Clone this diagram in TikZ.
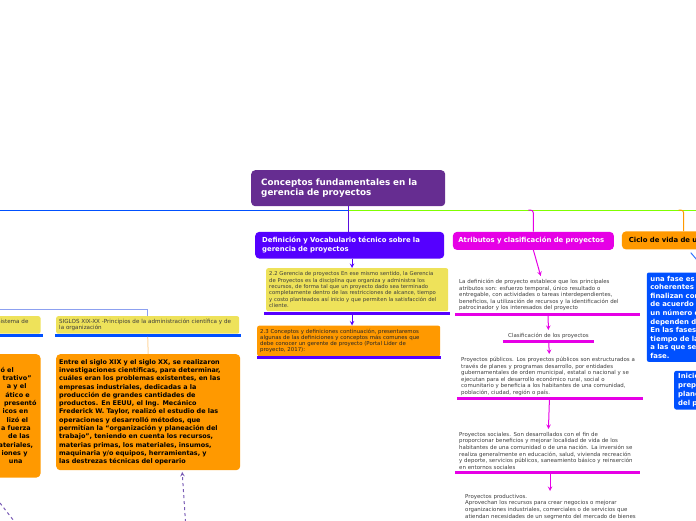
\documentclass[tikz,border=0pt]{standalone}
\usepackage{fontspec}
\setmainfont{DejaVu Sans}

\definecolor{titlepurple}{RGB}{102,45,145}
\definecolor{defviolet}{RGB}{85,0,255}
\definecolor{atrmagenta}{RGB}{230,0,230}
\definecolor{mapblue}{RGB}{0,80,255}
\definecolor{mapgreen}{RGB}{128,255,0}
\definecolor{maporange}{RGB}{255,153,0}
\definecolor{noteyellow}{RGB}{238,226,90}
\definecolor{notegray}{RGB}{60,60,60}
\definecolor{paleblue}{RGB}{140,160,240}
\definecolor{paleorange}{RGB}{255,215,160}
\definecolor{dashpurple}{RGB}{120,90,180}

\begin{document}
\begin{tikzpicture}[x=1pt, y=-1pt, >=stealth,
  mapbox/.style={anchor=north west, rounded corners=4pt, align=left, inner ysep=2pt},
  titlebox/.style={mapbox, fill=titlepurple, text=white, font=\fontsize{8.8}{10}\selectfont\bfseries,
    inner xsep=10pt, text width=174pt, minimum height=36pt},
  headbox/.style={mapbox, text=white, font=\fontsize{6.9}{8.7}\selectfont\bfseries,
    inner xsep=7pt, minimum height=18pt},
  notebox/.style={mapbox, rounded corners=2pt, fill=noteyellow, text=notegray,
    font=\fontsize{5.3}{6.3}\selectfont, inner xsep=3pt},
  plainnote/.style={anchor=north west, align=left, text=notegray,
    font=\fontsize{5.45}{6.6}\selectfont, inner xsep=4pt, inner ysep=3pt},
  bodybox/.style={mapbox, fill=maporange, font=\fontsize{6.45}{8.3}\selectfont\bfseries},
  fragtext/.style={anchor=base east, inner sep=0pt, font=\fontsize{6.45}{8.3}\selectfont\bfseries},
  bar/.style={line width=3pt},
  link/.style={line width=1pt},
]
\useasboundingbox (0,0) rectangle (696,520);
\clip (0,0) rectangle (696,520);

% centre and main branches
\node[titlebox] (title) at (251,170) {Conceptos fundamentales en la\\gerencia de proyectos};
\coordinate (hub) at (348.3,210);
\coordinate (westend) at (0,210);
\coordinate (eastend) at (696,210);
\draw[link, mapblue] (hub) -- (westend);
\draw[link, mapgreen] (hub) -- (eastend);

% Definicion
\node[headbox, fill=defviolet, text width=175pt, minimum height=26.6pt] (defbox) at (255,231.7)
  {Definición y Vocabulario técnico sobre la\\gerencia de proyectos};
\draw[link, defviolet!70!titlepurple] (title.south) -- (title.south |- defbox.north);
\node[notebox, text width=176pt, minimum height=43pt] (note22) at (266,268)
  {2.2 Gerencia de proyectos En ese mismo sentido, la Gerencia\\
   de Proyectos es la disciplina que organiza y administra los\\
   recursos, de forma tal que un proyecto dado sea terminado\\
   completamente dentro de las restricciones de alcance, tiempo\\
   y costo planteados así inicio y que permiten la satisfacción del\\
   cliente.};
\draw[bar, defviolet] ([xshift=-2pt,yshift=-2.3pt]note22.south west) -- ([xshift=2pt,yshift=-2.3pt]note22.south east);
\draw[link, defviolet, ->] (defbox.south -| 352,0) -- (note22.north -| 352,0);
\node[notebox, fill=maporange, text=black!85, text width=177pt, minimum height=30.5pt,
  font=\fontsize{5.4}{6}\selectfont] (note23) at (257,325.5)
  {2.3 Conceptos y definiciones continuación, presentaremos\\
   algunas de las definiciones y conceptos más comunes que\\
   debe conocer un gerente de proyecto (Portal Líder de\\
   proyecto, 2017):};
\draw[bar, defviolet] ([yshift=-1.5pt]note23.south west) -- ([xshift=1pt,yshift=-1.5pt]note23.south east);
\draw[link, defviolet, ->] ([yshift=-3pt]note22.south -| 352,0) -- (note23.north -| 352,0);

% Atributos
\node[headbox, fill=atrmagenta, text width=150pt, inner xsep=5.5pt] (atr) at (452.7,231.7) {Atributos y clasificación de proyectos};
\draw[link, atrmagenta, rounded corners=3pt] ([xshift=-5pt]atr.north |- hub) -| (atr.north);
\node[plainnote, text width=177pt] (atrnote) at (455,276)
  {La definición de proyecto establece que los principales\\
   atributos son: esfuerzo temporal, único resultado o\\
   entregable, con actividades o tareas interdependientes,\\
   beneficios, la utilización de recursos y la identificación del\\
   patrocinador y los interesados del proyecto};
\draw[bar, atrmagenta] (atrnote.south west) -- (atrnote.south east);
\draw[link, atrmagenta, ->] (atr.south) -- ([xshift=-7pt]atrnote.north);
\node[plainnote, anchor=north, align=center, minimum width=91pt] (clasif) at (548.5,330)
  {Clasificación de los proyectos};
\draw[bar, atrmagenta] (clasif.south west) -- (clasif.south east);
\draw[link, atrmagenta, ->] (atrnote) -- (clasif);
\node[plainnote, text width=178pt] (pubnote) at (457,354)
  {Proyectos públicos. Los proyectos públicos son estructurados a\\
   través de planes y programas desarrollo, por entidades\\
   gubernamentales de orden municipal, estatal o nacional y se\\
   ejecutan para el desarrollo económico rural, social o\\
   comunitario y beneficia a los habitantes de una comunidad,\\
   población, ciudad, región o país.};
\draw[bar, atrmagenta] (pubnote.south west) -- (pubnote.south east);
\draw[link, atrmagenta, ->] (clasif) -- (pubnote);
\node[plainnote, text width=177pt] (socnote) at (455,429)
  {Proyectos sociales. Son desarrollados con el fin de\\
   proporcionar beneficios y mejorar localidad de vida de los\\
   habitantes de una comunidad o de una nación. La inversión se\\
   realiza generalmente en educación, salud, vivienda recreación\\
   y deporte, servicios públicos, saneamiento básico y reinserción\\
   en entornos sociales};
\draw[bar, atrmagenta] (socnote.south west) -- (socnote.south east);
\draw[link, atrmagenta, ->] (pubnote) -- (socnote);
\node[plainnote, text width=177pt] (prodnote) at (461,491)
  {Proyectos productivos.\\
   Aprovechan los recursos para crear negocios o mejorar\\
   organizaciones industriales, comerciales o de servicios que\\
   atiendan necesidades de un segmento del mercado de bienes};
\draw[link, atrmagenta, ->] (socnote.south -| 550,0) -- (prodnote.north -| 550,0);

% Ciclo de vida
\node[headbox, fill=maporange, text=black, text width=130pt] (ciclo) at (621.7,231.2) {Ciclo de vida de un proyecto};
\coordinate (ciclotop) at ([xshift=62pt]ciclo.north west);
\draw[link, maporange, rounded corners=3pt] ([xshift=-5pt]ciclotop |- hub) -| (ciclotop);
\node[headbox, fill=mapblue, rounded corners=2pt, text width=114pt, minimum height=89.4pt,
  inner xsep=3.5pt, font=\fontsize{6.9}{8.6}\selectfont\bfseries] (fase) at (646.7,272.3)
  {una fase es\\coherentes\\finalizan con\\de acuerdo\\un número de\\dependen de\\En las fases\\tiempo de la\\a las que se\\fase.};
\draw[link, mapblue!80] ([xshift=69pt,yshift=-3pt]ciclo.south west) -- (fase.north);
\node[headbox, fill=mapblue, rounded corners=2pt, text width=80pt, minimum height=38.6pt,
  inner xsep=4pt, font=\fontsize{6.9}{8.8}\selectfont\bfseries] (inicio) at (674,370.7)
  {Inicio\\prepa\\plane\\del pr};

% siglos XIX-XX
\coordinate (westfar) at (0,309.3);
\node[notebox, anchor=north east, align=right, text width=176pt, inner xsep=12pt, minimum height=17.5pt,
  font=\fontsize{5.6}{6.6}\selectfont] (sysbox) at (40.7,316) {Sistema de\\\mbox{}};
\draw[bar, mapblue] ([yshift=-1.5pt]sysbox.south west) -- ([xshift=2pt,yshift=-1.5pt]sysbox.south east);
\node[notebox, text width=177pt, minimum height=17.5pt, font=\fontsize{5.6}{6.6}\selectfont] (siglos) at (56,316)
  {SIGLOS XIX-XX -Principios de la administración científica y de\\la organización};
\draw[bar, mapblue] ([xshift=-1pt,yshift=-1.5pt]siglos.south west) -- ([xshift=1.5pt,yshift=-1.5pt]siglos.south east);
\draw[link, paleblue] (westfar) -| (siglos.north);
\node[bodybox, text width=178pt, inner xsep=3pt, minimum height=116pt] (taylor) at (56,354)
  {Entre el siglo XIX y el siglo XX, se realizaron\\
   investigaciones científicas, para determinar,\\
   cuáles eran los problemas existentes, en las\\
   empresas industriales, dedicadas a la\\
   producción de grandes cantidades de\\
   productos. En EEUU, el Ing. Mecánico\\
   Frederick W. Taylor, realizó el estudio de las\\
   operaciones y desarrolló métodos, que\\
   permitían la ``organización y planeación del\\
   trabajo'', teniendo en cuenta los recursos,\\
   materias primas, los materiales, insumos,\\
   maquinaria y/o equipos, herramientas, y\\
   las destrezas técnicas del operario};
\draw[link, paleorange] ([yshift=-3pt]siglos.south) -- (taylor.north);
\node[bodybox, anchor=north east, minimum width=190pt, minimum height=123.3pt] (oldbox) at (40.7,354) {};
\foreach \frag/\xe/\yb [count=\k] in {{ó el}/14/372.3, {trativo''}/31.7/380.6, {a y el}/26.7/388.9,
  {ático e}/30/397.2, {presentó}/36.7/405.5, {icos en}/28.3/413.8, {lizó el}/28.3/422.1,
  {a fuerza}/31/430.4, {de las}/30/438.7, {ateriales,}/33.3/447, {iones y}/27.7/455.3, {una}/22.7/463.6}
  \node[fragtext] (frag\k) at (\xe,\yb) {\frag};

% dashed links
\coordinate (dashtail) at (185.5,522);
\draw[link, dashpurple, dashed, ->] (dashtail) -- ([xshift=34pt,yshift=-1.5pt]taylor.south);
\coordinate (dashA) at (0,503);
\coordinate (dashB) at (14,521);
\draw[link, dashpurple, dashed] (dashA) -- (dashB);
\end{tikzpicture}
\end{document}
